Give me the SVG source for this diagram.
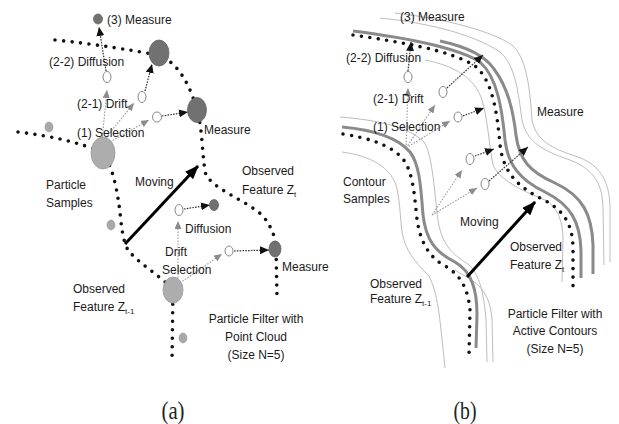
<svg xmlns="http://www.w3.org/2000/svg" width="619" height="424" viewBox="0 0 619 424">
<defs>
<style>
.t{font-family:"Liberation Sans",Arial,sans-serif;font-size:12px;fill:#1a1a1a}
.c{text-anchor:middle}
.cap{font-family:"Liberation Serif","Times New Roman",serif;font-size:25px;fill:#222;text-anchor:middle}
.sub{font-size:8px}
.feat{fill:none;stroke:#111;stroke-width:3.6;stroke-linecap:round;stroke-dasharray:0 8.5}
.gd{fill:none;stroke:#9a9a9a;stroke-width:1.1;stroke-dasharray:1.6 1.4}
.bd{fill:none;stroke:#333;stroke-width:1.2;stroke-dasharray:1.6 1.2}
.thick{fill:none;stroke:#8a8a8a;stroke-width:3}
.thin{fill:none;stroke:#b4b4b4;stroke-width:0.9}
.mv{fill:none;stroke:#000;stroke-width:3}
.wc{fill:#fff;stroke:#888;stroke-width:1}
.meas{fill:#717171;stroke:#666;stroke-width:0.8}
.sel{fill:#adadad;stroke:#999;stroke-width:0.8}
.sp{fill:#a8a8a8;stroke:#999;stroke-width:0.6}
</style>
<marker id="ab" markerUnits="userSpaceOnUse" markerWidth="9" markerHeight="8" refX="9" refY="4" orient="auto"><path d="M0,0 L9,4 L0,8 z" fill="#111"/></marker>
<marker id="ag" markerUnits="userSpaceOnUse" markerWidth="8" markerHeight="7" refX="8" refY="3.5" orient="auto"><path d="M0,0 L8,3.5 L0,7 z" fill="#8c8c8c"/></marker>
<marker id="am" markerUnits="userSpaceOnUse" markerWidth="14" markerHeight="11" refX="13" refY="5.5" orient="auto"><path d="M0,0 L14,5.5 L0,11 z" fill="#000"/></marker>
</defs>
<rect width="619" height="424" fill="#fff"/>

<!-- ===== Panel (a) ===== -->
<g id="a-features">
<path class="feat" d="M55,40 C95,44 130,50 158,55 C178,62 190,85 197,110 C203,130 202,160 206,175 C215,190 245,200 262,215 C273,228 276,240 276,250 L277,296"/>
<path class="feat" d="M18,132 C50,136 80,142 103,153 C112,165 118,190 121,222 C123,238 125,245 128,250 C140,265 160,275 173,290 L172,362"/>
</g>
<g id="a-connectors">
<path class="gd" d="M102,140 L107,90" marker-end="url(#ag)"/>
<path class="bd" d="M106,71 L99,27" marker-end="url(#ab)"/>
<path class="gd" d="M104,140 L134,103" marker-end="url(#ag)"/>
<path class="bd" d="M145,91 L152,64" marker-end="url(#ab)"/>
<path class="gd" d="M110,142 L149,120" marker-end="url(#ag)"/>
<path class="bd" d="M162,116 L188,112" marker-end="url(#ab)"/>
<path class="gd" d="M178,278 L178,221" marker-end="url(#ag)"/>
<path class="bd" d="M184,209 L210,205" marker-end="url(#ab)"/>
<path class="gd" d="M180,283 L222,254" marker-end="url(#ag)"/>
<path class="bd" d="M234,251 L269,250" marker-end="url(#ab)"/>
<path class="mv" d="M125,244 L198,166" marker-end="url(#am)"/>
</g>
<g id="a-nodes">
<g id="a-measure3"><ellipse class="meas" cx="98" cy="19" rx="4.5" ry="5"/></g>
<g id="a-measure1"><ellipse class="meas" cx="159" cy="53" rx="10" ry="13"/></g>
<g id="a-measure2"><ellipse class="meas" cx="197" cy="110" rx="9.5" ry="12.5"/></g>
<g id="a-selection1"><ellipse class="sel" cx="103" cy="153" rx="12" ry="16"/></g>
<g id="a-selection2"><ellipse class="sel" cx="173" cy="290" rx="10" ry="13"/></g>
<g id="a-measure4"><ellipse class="meas" cx="214" cy="205" rx="4.5" ry="5.5"/></g>
<g id="a-measure5"><ellipse class="meas" cx="275" cy="249" rx="6" ry="8"/></g>
<g id="a-drift1"><ellipse class="wc" cx="107" cy="77" rx="4" ry="5.5"/></g>
<g id="a-drift2"><ellipse class="wc" cx="142" cy="97" rx="4" ry="5.5"/></g>
<g id="a-drift3"><ellipse class="wc" cx="157" cy="117" rx="4.5" ry="5"/></g>
<g id="a-drift4"><ellipse class="wc" cx="179" cy="210" rx="4" ry="5.5"/></g>
<g id="a-drift5"><ellipse class="wc" cx="229" cy="251" rx="4" ry="5"/></g>
<g id="a-p1"><ellipse class="sp" cx="49" cy="127" rx="4" ry="5"/></g>
<g id="a-p2"><ellipse class="sp" cx="111" cy="225" rx="4" ry="5"/></g>
<g id="a-p3"><ellipse class="sp" cx="183" cy="338" rx="4" ry="5"/></g>
</g>
<g id="a-labels">
<text class="t" x="107" y="24">(3) Measure</text>
<text class="t" x="49" y="66">(2-2) Diffusion</text>
<text class="t" x="77" y="108">(2-1) Drift</text>
<text class="t" x="77" y="137">(1) Selection</text>
<text class="t" x="204" y="134">Measure</text>
<text class="t" x="46" y="189">Particle</text>
<text class="t" x="46" y="207">Samples</text>
<text class="t" x="135" y="186">Moving</text>
<text class="t" x="242" y="175">Observed</text>
<text class="t" x="242" y="194">Feature Z<tspan class="sub" dy="3">t</tspan></text>
<text class="t" x="185" y="233">Diffusion</text>
<text class="t" x="165" y="256">Drift</text>
<text class="t" x="162" y="274">Selection</text>
<text class="t" x="282" y="271">Measure</text>
<text class="t" x="73" y="293">Observed</text>
<text class="t" x="73" y="311">Feature Z<tspan class="sub" dy="3">t-1</tspan></text>
<text class="t c" x="256" y="323">Particle Filter with</text>
<text class="t c" x="256" y="341">Point Cloud</text>
<text class="t c" x="256" y="359">(Size N=5)</text>
<text class="cap" x="173" y="419" textLength="23" lengthAdjust="spacingAndGlyphs">(a)</text>
</g>

<!-- ===== Panel (b) ===== -->
<g id="b-contours">
<path class="thin" d="M380,18 C420,22 470,32 500,52 C515,65 518,90 522,120 C526,140 540,150 570,160 C595,170 603,185 603,210 L604,265"/>
<path class="thin" d="M395,13 C440,18 490,30 512,45 C527,58 530,90 532,120 C536,140 550,148 578,157 C603,166 610,185 610,210 L610,262"/>
<path class="thin" d="M425,60 C455,66 475,78 482,100 C488,120 489,145 493,165 C500,180 520,190 545,200 C558,207 563,222 563,240 L562,282"/>
<path class="thick" d="M353,31 C400,37 455,46 480,62 C497,77 502,108 505,140 C508,165 520,180 545,192 C571,205 580,222 581,250 L581,278"/>
<path class="thick" d="M440,41 C468,47 486,57 494,69 C508,88 513,110 516,135 C519,160 530,172 555,183 C583,196 592,215 593,245 L593,274"/>
<path class="feat" d="M353,35 C400,42 450,50 475,66 C492,80 497,110 500,145 C503,170 515,185 540,198 C565,210 573,225 573,250 L573,290"/>

<path class="thin" d="M340,117 C380,120 410,128 424,142 C432,155 434,185 437,213 C440,240 448,252 468,264 C480,274 484,295 486,320 L487,362"/>
<path class="thin" d="M342,152 C372,156 390,168 396,185 C400,200 400,215 402,232 C405,250 415,262 428,275 C438,290 440,320 445,368"/>
<path class="thin" d="M455,270 C470,280 490,285 492,320 L493,362"/>
<path class="thick" d="M342,127 C375,130 398,138 410,152 C420,165 421,190 423,215 C426,240 435,252 455,262 C472,272 477,290 477,315 L476,348"/>
<path class="feat" d="M343,134 C370,138 392,146 403,159 C412,171 414,190 416,210 C418,235 425,255 445,266 C462,276 468,290 470,310 L469,356"/>
</g>
<g id="b-connectors">
<path class="gd" d="M406,148 L408,88" marker-end="url(#ag)"/>
<path class="bd" d="M408,71 L411,42" marker-end="url(#ab)"/>
<path class="gd" d="M406,148 L435,105" marker-end="url(#ag)"/>
<path class="bd" d="M447,88 L483,55" marker-end="url(#ab)"/>
<path class="gd" d="M406,148 L450,121" marker-end="url(#ag)"/>
<path class="bd" d="M463,116 L484,108" marker-end="url(#ab)"/>
<path class="gd" d="M432,215 L462,170" marker-end="url(#ag)"/>
<path class="bd" d="M475,156 L494,149" marker-end="url(#ab)"/>
<path class="gd" d="M432,215 L477,188" marker-end="url(#ag)"/>
<path class="bd" d="M489,181 L528,147" marker-end="url(#ab)"/>
<path class="mv" d="M467,277 L535,202" marker-end="url(#am)"/>
</g>
<g id="b-nodes">
<g id="b-drift1"><ellipse class="wc" cx="408" cy="77" rx="4" ry="5.5"/></g>
<g id="b-drift2"><ellipse class="wc" cx="443" cy="92" rx="4" ry="5.5"/></g>
<g id="b-drift3"><ellipse class="wc" cx="458" cy="117" rx="4" ry="5"/></g>
<g id="b-drift4"><ellipse class="wc" cx="470" cy="159" rx="4" ry="5.5"/></g>
<g id="b-drift5"><ellipse class="wc" cx="485" cy="184" rx="4" ry="5.5"/></g>
</g>
<g id="b-labels">
<text class="t" x="400" y="21">(3) Measure</text>
<text class="t" x="346" y="62">(2-2) Diffusion</text>
<text class="t" x="373" y="103">(2-1) Drift</text>
<text class="t" x="373" y="131">(1) Selection</text>
<text class="t" x="537" y="116">Measure</text>
<text class="t" x="343" y="186">Contour</text>
<text class="t" x="343" y="203">Samples</text>
<text class="t" x="460" y="226">Moving</text>
<text class="t" x="510" y="251">Observed</text>
<text class="t" x="510" y="269">Feature Z<tspan class="sub" dy="3">t</tspan></text>
<text class="t" x="370" y="288">Observed</text>
<text class="t" x="370" y="303">Feature Z<tspan class="sub" dy="3">t-1</tspan></text>
<text class="t c" x="555" y="318">Particle Filter with</text>
<text class="t c" x="555" y="335">Active Contours</text>
<text class="t c" x="555" y="353">(Size N=5)</text>
<text class="cap" x="465" y="419" textLength="23" lengthAdjust="spacingAndGlyphs">(b)</text>
</g>
</svg>
